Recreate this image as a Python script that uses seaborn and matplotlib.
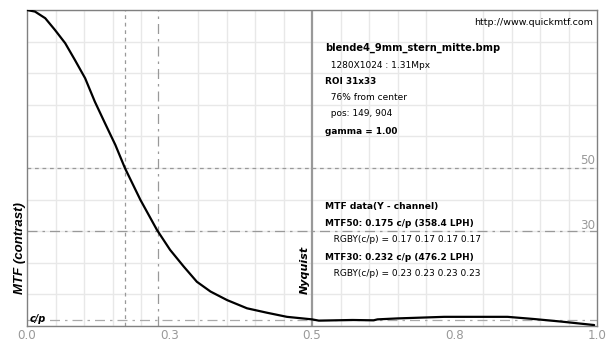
import numpy as np
import pandas as pd
import matplotlib
matplotlib.use("Agg")
import matplotlib.pyplot as plt
import seaborn as sns

# Data
freq = [0.0, 0.014, 0.032, 0.049, 0.067, 0.084, 0.102, 0.119, 0.137, 0.155, 0.172,
        0.199, 0.228, 0.251, 0.275, 0.298, 0.322, 0.351, 0.386, 0.421, 0.456, 0.5,
        0.512, 0.571, 0.608, 0.615, 0.65, 0.732, 0.843, 0.89, 0.937, 0.995]
mtf = [1.0, 0.995, 0.974, 0.937, 0.895, 0.842, 0.784, 0.71, 0.641, 0.573, 0.499,
       0.399, 0.304, 0.241, 0.188, 0.14, 0.109, 0.082, 0.056, 0.042, 0.029, 0.021,
       0.017, 0.019, 0.018, 0.021, 0.024, 0.029, 0.029, 0.022, 0.014, 0.003]
mtf50_x = 0.175
mtf30_x = 0.232
nyquist = 0.5
tick_pos = [0.0, 0.25, 0.5, 0.75, 1.0]
tick_labels = ["0.0", "0.3", "0.5", "0.8", "1.0"]
info_lines = [
    ("blende4_9mm_stern_mitte.bmp", True, 7.1),
    ("  1280X1024 : 1.31Mpx", False, 6.5),
    ("ROI 31x33", True, 6.4),
    ("  76% from center", False, 6.5),
    ("  pos: 149, 904", False, 6.5),
    ("gamma = 1.00", True, 6.4),
]
data_lines = [
    ("MTF data(Y - channel)", True, 6.6),
    ("MTF50: 0.175 c/p (358.4 LPH)", True, 6.4),
    ("   RGBY(c/p) = 0.17 0.17 0.17 0.17", False, 6.5),
    ("MTF30: 0.232 c/p (476.2 LPH)", True, 6.4),
    ("   RGBY(c/p) = 0.23 0.23 0.23 0.23", False, 6.5),
]

sns.set_theme(style="white")
plt.rcParams['font.family'] = ['DejaVu Sans']

fig = plt.figure(figsize=(6.11, 3.42), dpi=100)
ax = fig.add_axes([27/611, 16/342, 570/611, 316/342])

df = pd.DataFrame({"freq": freq, "mtf": mtf})
sns.lineplot(data=df, x="freq", y="mtf", ax=ax, color="black", linewidth=1.6, zorder=5)

ax.set_xlim(0, 1)
ax.set_ylim(0, 1)
ax.set_xticks(np.arange(0, 1.001, 0.05), minor=True)
ax.set_yticks(np.arange(0, 1.001, 0.1), minor=True)
ax.set_xticks(tick_pos)
ax.set_xticklabels(tick_labels)
ax.set_yticks([])
ax.grid(True, which="minor", color="#e8e8e8", linewidth=1.0)
ax.tick_params(axis="x", which="both", length=0, labelsize=8.6, labelcolor="#999999", pad=2)
ax.set_xlabel("")
ax.set_ylabel("")
for s in ax.spines.values():
    s.set_color("#808080")
    s.set_linewidth(1.0)

# reference lines
ax.axhline(0.5, color="#999999", linestyle=(0, (3, 3)), linewidth=0.9)
ax.axvline(mtf50_x * 0.98, color="#999999", linestyle=(0, (3, 3)), linewidth=0.9)
ax.axhline(0.3, color="#999999", linestyle=(0, (8, 4, 2, 4)), linewidth=0.9)
ax.axvline(mtf30_x * 0.99, color="#999999", linestyle=(0, (8, 4, 2, 4)), linewidth=0.9)
ax.axhline(0.02, color="#aaaaaa", linestyle=(0, (8, 4, 2, 4)), linewidth=0.9)
ax.axvline(nyquist, color="#999999", linewidth=1.6)

ax.text(0.996, 0.513, "50", ha="right", va="baseline", fontsize=8.6, color="#999999")
ax.text(0.996, 0.307, "30", ha="right", va="baseline", fontsize=8.6, color="#999999")
ax.text(nyquist - 0.004, 0.177, "Nyquist", rotation=90, ha="right", va="center",
        fontsize=8, fontweight="bold", fontstyle="italic", color="black")
ax.text(0.004, 0.022, "c/p", ha="left", va="center", fontsize=7, fontweight="bold",
        fontstyle="italic", color="black")
fig.text(20/611, 1 - 248/342, "MTF (contrast)", rotation=90, ha="center", va="center",
         fontsize=9.5, fontweight="bold", fontstyle="italic", color="black",
         family="Liberation Sans")

ax.text(0.993, 0.975, "http://www.quickmtf.com", ha="right", va="top", fontsize=6.8, color="black")

ys = [48, 66, 82, 98, 114, 132]
for (t, b, fs), y in zip(info_lines, ys):
    fig.text(325/611, 1 - y/342, t, ha="left", va="center", fontsize=fs,
             fontweight="bold" if b else "normal", color="black")
ys2 = [207, 223, 240, 257, 273]
for (t, b, fs), y in zip(data_lines, ys2):
    fig.text(325/611, 1 - y/342, t, ha="left", va="center", fontsize=fs,
             fontweight="bold" if b else "normal", color="black")

fig.savefig("out.png", dpi=100)
